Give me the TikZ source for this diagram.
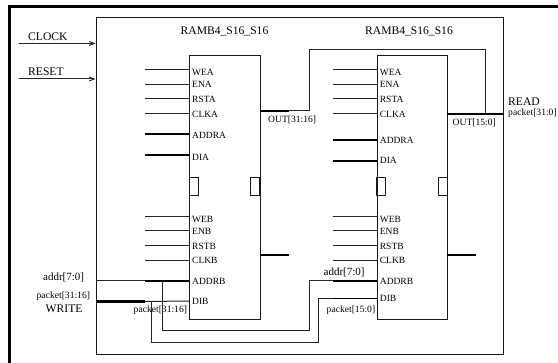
\documentclass[tikz,border=0pt]{standalone}
\usepackage{fontspec}
\setmainfont{Liberation Serif}
\usetikzlibrary{arrows.meta}
\tikzset{
  x=1pt,y=-1pt,
  wire/.style={line width=1pt,black!85},
  bus/.style={line width=1.9pt,black},
  fat/.style={line width=2.8pt,black},
  frame/.style={draw,line width=1pt,black!90},
  pin/.style={font=\fontsize{9.5}{10}\selectfont,anchor=west,inner sep=0pt,text=black},
  small/.style={font=\fontsize{9.6}{10}\selectfont,inner sep=0pt,text=black},
  big/.style={font=\fontsize{11.6}{12}\selectfont,inner sep=0pt,text=black},
}
\newcommand{\ramblock}[8]{% name, x-left, ADDRA y, DIA y, ADDRA label y, DIA label y, DIB y, DIB label y
  \node[frame,minimum width=70.5pt,minimum height=263.5pt,inner sep=0pt,anchor=north west] (#1) at (#2,55.5) {};
  \coordinate (#1sl) at (#2,178); \coordinate (#1sr) at (#2+70.5,178);
  \draw[frame] (#1sl) rectangle ++(9,18);
  \draw[frame] (#1sr) rectangle ++(-9,18);
  \foreach \nm/\yy/\ly in {WEA/70/72.5,ENA/84.5/84.5,RSTA/99/99,CLKA/114/114,WEB/216.3/219.5,ENB/231/231,RSTB/246/246,CLKB/260.5/260.5}{
    \coordinate (#1\nm) at (#2,\yy);
    \coordinate (#1\nm s) at (#2-44,\yy);
    \draw[wire] (#1\nm s) -- (#1\nm);
    \node[pin] at (#2+3,\ly) {\nm};
  }
  \coordinate (#1ADDRA) at (#2,#3); \coordinate (#1ADDRAs) at (#2-44,#3);
  \coordinate (#1DIA) at (#2,#4); \coordinate (#1DIAs) at (#2-44,#4);
  \coordinate (#1ADDRB) at (#2,281); \coordinate (#1ADDRBs) at (#2-44,281);
  \coordinate (#1DIB) at (#2,#7); \coordinate (#1DIBs) at (#2-44,#7);
  \draw[bus] (#1ADDRAs) -- (#1ADDRA);
  \draw[bus] (#1DIAs) -- (#1DIA);
  \node[pin] at (#2+3,#5) {ADDRA};
  \node[pin] at (#2+3,#6) {DIA};
  \node[pin] at (#2+3,281) {ADDRB};
  \node[pin] at (#2+3,#8) {DIB};
}
\begin{document}
\begin{tikzpicture}
\useasboundingbox (0,0) rectangle (558,363);
\draw[line width=2.2pt] (9.5,370) -- (9.5,6.5) -- (565,6.5);
\node[frame,minimum width=407.2pt,minimum height=336.5pt,inner sep=0pt,anchor=north west] (outer) at (95.5,17.5) {};
\ramblock{a}{189}{134.2}{155}{135}{157.5}{301}{301.5}
\ramblock{b}{376.7}{140}{161}{140}{160.5}{298.5}{298.5}
\node[big] (ta) at (224.5,31) {RAMB4\_S16\_S16};
\node[big] (tb) at (409,31) {RAMB4\_S16\_S16};
% inputs
\coordinate (clk) at (19,43.5); \coordinate (clke) at (95.5,43.5);
\coordinate (rst) at (19,79); \coordinate (rste) at (95.5,79);
\draw[wire,-{Straight Barb[length=5pt,width=4pt]}] (clk) -- (clke);
\draw[wire,-{Straight Barb[length=5pt,width=4pt]}] (rst) -- (rste);
\node[big,anchor=west] at (28,37) {CLOCK};
\node[big,anchor=west] at (28,72) {RESET};
% outputs
\coordinate (oa1) at (259.5,111); \coordinate (oa2) at (289,111); \coordinate (oa3) at (309,111);
\coordinate (oa4) at (309,50); \coordinate (oa5) at (485,50); \coordinate (oa6) at (485,114);
\draw[bus] (oa1) -- (oa2);
\draw[wire] (oa2) -- (oa3) -- (oa4) -- (oa5) -- (oa6);
\coordinate (ob1) at (446.7,114); \coordinate (ob2) at (476,114); \coordinate (ob3) at (502.7,114);
\draw[bus] (ob1) -- (ob2);
\draw[fat] (ob2) -- (ob3);
\coordinate (la1) at (259.5,254.7); \coordinate (la2) at (289,254.7);
\coordinate (lb1) at (446.7,254.7); \coordinate (lb2) at (476,254.7);
\draw[bus] (la1) -- (la2);
\draw[bus] (lb1) -- (lb2);
\node[small,anchor=west] at (268,120) {OUT[31:16]};
\node[small,anchor=west] at (452.5,123) {OUT[15:0]};
\node[big,anchor=west] at (508,101.5) {READ};
\node[small,anchor=west] at (508,113.5) {packet[31:0]};
% addr / packet inputs
\coordinate (ain) at (95.5,281); \coordinate (pin1) at (95.5,301.5);
\coordinate (atap) at (162.5,281); \coordinate (ptap) at (151,301);
\coordinate (pmid) at (145,301.5);
\draw[wire] (ain) -- (aADDRBs);
\draw[bus] (aADDRBs) -- (aADDRB);
\draw[fat] (pin1) -- (pmid);
\draw[wire] (pmid) -- (aDIB);
\coordinate (a2) at (162.5,331); \coordinate (a3) at (309.3,331); \coordinate (a4) at (309.3,281);
\coordinate (p2) at (151,342.5); \coordinate (p3) at (318,342.5); \coordinate (p4) at (318,298.5);
\draw[wire] (atap) -- (a2) -- (a3) -- (a4) -- (bADDRBs);
\draw[wire] (ptap) -- (p2) -- (p3) -- (p4) -- (bDIBs);
\draw[bus] (bADDRBs) -- (bADDRB);
\draw[bus] (bDIBs) -- (bDIB);
\node[big,anchor=west,font=\fontsize{11}{12}\selectfont] at (43,277.5) {addr[7:0]};
\node[small,anchor=west] at (36.5,296) {packet[31:16]};
\node[big,anchor=west] at (45.5,309) {WRITE};
\node[small,anchor=west] at (133.5,310) {packet[31:16]};
\node[big,anchor=west,font=\fontsize{11}{12}\selectfont] at (323.5,272) {addr[7:0]};
\node[small,anchor=west] at (326.5,310) {packet[15:0]};
\end{tikzpicture}
\end{document}
